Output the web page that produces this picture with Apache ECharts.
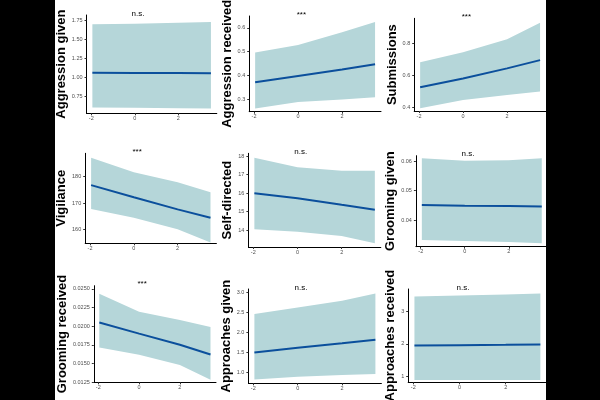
<!DOCTYPE html>
<html>
<head>
<meta charset="utf-8">
<script src="https://cdn.jsdelivr.net/npm/echarts/dist/echarts.min.js"></script>
<style>
  html, body { margin: 0; padding: 0; background: #fff; }
  #main { width: 600px; height: 400px; }
</style>
</head>
<body>
<div id="main"></div>
<script>
var xs = [-1.95, 0, 2, 3.5];
var xTicks = [-2, 0, 2];

var yTitles = ['Aggression given', 'Aggression received', 'Submissions',
  'Vigilance', 'Self-directed', 'Grooming given',
  'Grooming received', 'Approaches given', 'Approaches received'];
var sigLabels = ['n.s.', '***', '***', '***', 'n.s.', 'n.s.', '***', 'n.s.', 'n.s.'];

// fitted value, lower / upper CI
var aggGivenFit = [1.064, 1.060, 1.058, 1.056];
var aggGivenLow = [0.608, 0.605, 0.600, 0.595];
var aggGivenHigh = [1.694, 1.700, 1.715, 1.724];

var aggRecFit = [0.372, 0.398, 0.425, 0.447];
var aggRecLow = [0.261, 0.289, 0.299, 0.309];
var aggRecHigh = [0.497, 0.528, 0.582, 0.625];

var submFit = [0.526, 0.582, 0.645, 0.697];
var submLow = [0.394, 0.446, 0.477, 0.500];
var submHigh = [0.683, 0.746, 0.828, 0.932];

var vigFit = [176.8, 172.2, 167.6, 164.4];
var vigLow = [167.7, 164.4, 160.0, 155.0];
var vigHigh = [187.2, 181.7, 177.9, 174.1];

var selfFit = [16.00, 15.73, 15.37, 15.11];
var selfLow = [14.05, 13.92, 13.69, 13.30];
var selfHigh = [17.91, 17.39, 17.21, 17.21];

var groomGivenFit = [0.0452, 0.0449, 0.0448, 0.0447];
var groomGivenLow = [0.0334, 0.0330, 0.0327, 0.0323];
var groomGivenHigh = [0.0609, 0.0601, 0.0603, 0.0609];

var groomRecFit = [0.0205, 0.0190, 0.0175, 0.0162];
var groomRecLow = [0.01714, 0.01616, 0.0148, 0.0128];
var groomRecHigh = [0.02437, 0.02195, 0.02083, 0.0199];

var apprGivenFit = [1.50, 1.62, 1.73, 1.82];
var apprGivenLow = [0.83, 0.90, 0.94, 0.97];
var apprGivenHigh = [2.46, 2.62, 2.79, 2.97];

var apprRecFit = [1.95, 1.96, 1.97, 1.98];
var apprRecLow = [0.90, 0.90, 0.90, 0.90];
var apprRecHigh = [3.44, 3.47, 3.50, 3.53];

var fits = [aggGivenFit, aggRecFit, submFit, vigFit, selfFit, groomGivenFit, groomRecFit, apprGivenFit, apprRecFit];
var lows = [aggGivenLow, aggRecLow, submLow, vigLow, selfLow, groomGivenLow, groomRecLow, apprGivenLow, apprRecLow];
var highs = [aggGivenHigh, aggRecHigh, submHigh, vigHigh, selfHigh, groomGivenHigh, groomRecHigh, apprGivenHigh, apprRecHigh];

// y tick labels
var yTicks = [
  [0.75, 1.00, 1.25, 1.50, 1.75],
  [0.3, 0.4, 0.5, 0.6],
  [0.4, 0.6, 0.8],
  [160, 170, 180],
  [14, 15, 16, 17, 18],
  [0.04, 0.05, 0.06],
  [0.0125, 0.0150, 0.0175, 0.0200, 0.0225, 0.0250],
  [1.0, 1.5, 2.0, 2.5, 3.0],
  [1, 2, 3]
];
var yDecimals = [2, 1, 1, 0, 0, 2, 4, 1, 0];
var yRanges = [[0.534, 1.815], [0.248, 0.650], [0.377, 0.960], [154.7, 188.9], [13.10, 18.145],
  [0.0311, 0.0618], [0.01246, 0.02544], [0.736, 3.082], [0.83, 3.67]];
var xRange = [-2.22, 3.77];

// panel boxes: left, top, width, height (px)
var boxes = [
  [86.5, 15, 130.3, 98.3], [249.2, 16, 131.8, 95.7], [414.2, 18.3, 131.8, 92.7],
  [85.2, 153.3, 131.2, 90], [248.4, 153.3, 132.4, 93.7], [415.9, 155.7, 131.8, 91],
  [93.8, 285.7, 122.2, 96.6], [248.4, 289, 133, 94.3], [408.2, 289, 138.4, 93.3]
];
var titleCenters = [65, 230, 395];

var bandColor = '#b5d6d9';
var lineColor = '#0b4f9c';
var font = '"Liberation Sans", Arial, sans-serif';

var chartDom = document.getElementById('main');
var myChart = echarts.init(chartDom, null, { renderer: 'canvas' });

var grids = [], xAxes = [], yAxes = [], series = [], graphics = [];

boxes.forEach(function (b, i) {
  grids.push({ left: b[0], top: b[1], width: b[2], height: b[3], containLabel: false, outerBoundsMode: 'none' });

  xAxes.push({
    type: 'value', gridIndex: i, min: xRange[0], max: xRange[1],
    axisLine: { onZero: false, lineStyle: { color: '#000', width: 1 } },
    axisTick: { show: true, length: 2, customValues: xTicks, lineStyle: { color: '#333' } },
    axisLabel: { customValues: xTicks, fontSize: 5.5, color: '#4d4d4d', margin: 2, fontFamily: font },
    splitLine: { show: false }
  });

  var dec = yDecimals[i];
  yAxes.push({
    type: 'value', gridIndex: i, min: yRanges[i][0], max: yRanges[i][1],
    name: yTitles[i], nameLocation: 'middle',
    nameGap: b[0] - (titleCenters[i % 3] + 10),
    nameTextStyle: { fontSize: 13, fontWeight: 'bold', color: '#000', fontFamily: font },
    axisLine: { show: true, onZero: false, lineStyle: { color: '#000', width: 1 } },
    axisTick: { show: true, length: 2, customValues: yTicks[i], lineStyle: { color: '#333' } },
    axisLabel: {
      customValues: yTicks[i], fontSize: 5.5, color: '#4d4d4d', margin: 4, fontFamily: font,
      formatter: function (v) { return v.toFixed(dec); }
    },
    splitLine: { show: false }
  });

  // confidence band
  series.push({
    type: 'custom', xAxisIndex: i, yAxisIndex: i, silent: true,
    data: [[xs[0], lows[i][0]]],
    renderItem: function (params, api) {
      var pts = [];
      var k;
      for (k = 0; k < xs.length; k++) pts.push(api.coord([xs[k], highs[i][k]]));
      for (k = xs.length - 1; k >= 0; k--) pts.push(api.coord([xs[k], lows[i][k]]));
      return { type: 'polygon', shape: { points: pts }, style: { fill: bandColor } };
    }
  });

  // fitted line
  series.push({
    type: 'line', xAxisIndex: i, yAxisIndex: i, symbol: 'none', silent: true,
    data: xs.map(function (x, k) { return [x, fits[i][k]]; }),
    lineStyle: { color: lineColor, width: 2 }
  });

  graphics.push({
    type: 'text',
    x: b[0] + (0.15 - xRange[0]) / (xRange[1] - xRange[0]) * b[2],
    y: b[1] - 1.5,
    style: { text: sigLabels[i], fontSize: 8, fill: '#000', fontFamily: font, align: 'center', verticalAlign: 'middle' }
  });
});

graphics.push({ type: 'rect', z: 100, shape: { x: 0, y: 0, width: 55, height: 400 }, style: { fill: '#000' } });
graphics.push({ type: 'rect', z: 100, shape: { x: 546, y: 0, width: 54, height: 400 }, style: { fill: '#000' } });

var option = {
  animation: false,
  backgroundColor: '#fff',
  grid: grids,
  xAxis: xAxes,
  yAxis: yAxes,
  series: series,
  graphic: graphics
};

myChart.setOption(option);
window.addEventListener('resize', myChart.resize);
</script>
</body>
</html>
